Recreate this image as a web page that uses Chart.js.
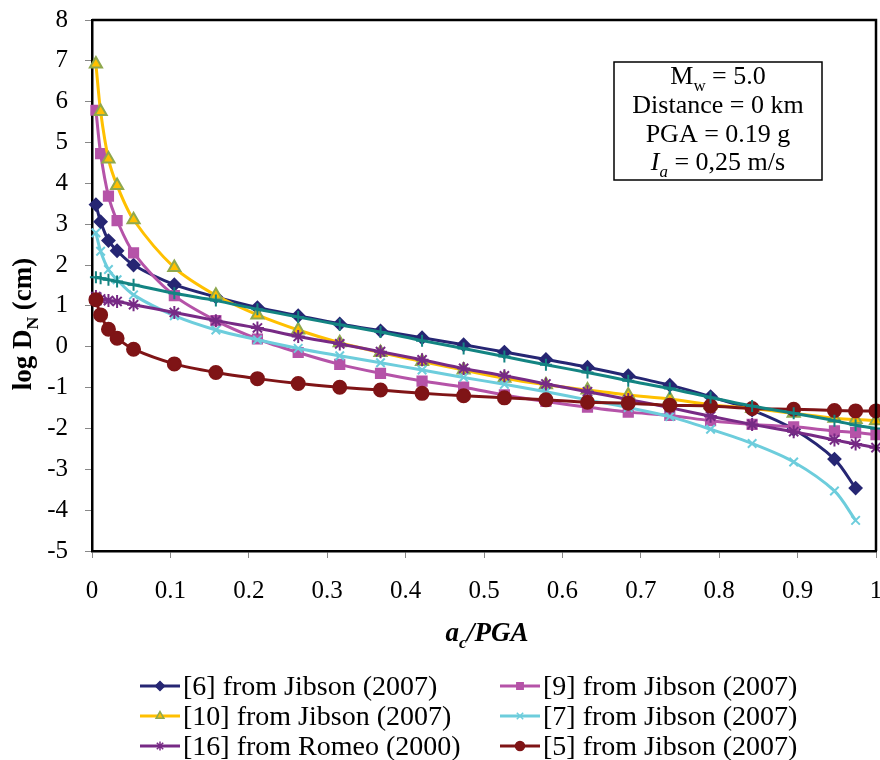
<!DOCTYPE html>
<html>
<head>
<meta charset="utf-8">
<script src="https://cdn.jsdelivr.net/npm/chart.js@4.4.1/dist/chart.umd.min.js"></script>
<style>
  html, body { margin: 0; padding: 0; background: #fff; }
  #wrap { width: 880px; height: 760px; position: relative; }
</style>
</head>
<body>
<div id="wrap"><canvas id="chart" width="880" height="760"></canvas></div>
<script>
// a_c / PGA values of the markers
const acPga = [0.005, 0.011, 0.021, 0.032, 0.053, 0.105, 0.158, 0.211, 0.263, 0.316, 0.368, 0.421,
  0.474, 0.526, 0.579, 0.632, 0.684, 0.737, 0.789, 0.842, 0.895, 0.947, 0.974, 1.0];

// log D_N (cm) per model
const ref6 = [3.48, 3.06, 2.60, 2.35, 2.00, 1.52, 1.22, 0.96, 0.76, 0.56, 0.39, 0.22,
  0.05, -0.13, -0.31, -0.50, -0.71, -0.94, -1.22, -1.55, -2.02, -2.75, -3.46];
const ref9 = [5.79, 4.73, 3.69, 3.09, 2.30, 1.25, 0.64, 0.19, -0.14, -0.43, -0.65, -0.84,
  -0.99, -1.18, -1.34, -1.48, -1.60, -1.68, -1.81, -1.90, -1.96, -2.06, -2.10, -2.15];
const ref10 = [6.92, 5.76, 4.60, 3.95, 3.11, 1.94, 1.26, 0.78, 0.41, 0.10, -0.14, -0.36,
  -0.57, -0.77, -0.93, -1.06, -1.18, -1.28, -1.42, -1.51, -1.63, -1.75, -1.78, -1.81];
const ref7 = [2.79, 2.34, 1.89, 1.64, 1.27, 0.76, 0.41, 0.17, -0.04, -0.22, -0.39, -0.57,
  -0.75, -0.92, -1.10, -1.30, -1.49, -1.71, -2.02, -2.37, -2.82, -3.53, -4.25];
const ref16 = [1.23, 1.17, 1.13, 1.11, 1.03, 0.84, 0.64, 0.46, 0.25, 0.07, -0.12, -0.32,
  -0.53, -0.71, -0.91, -1.10, -1.29, -1.49, -1.70, -1.90, -2.08, -2.28, -2.38, -2.47];
const ref5 = [1.15, 0.78, 0.43, 0.21, -0.06, -0.42, -0.63, -0.78, -0.90, -0.99, -1.06, -1.14,
  -1.20, -1.25, -1.30, -1.36, -1.38, -1.43, -1.45, -1.51, -1.53, -1.56, -1.57, -1.57];
const refTeal = [1.70, 1.68, 1.64, 1.60, 1.52, 1.31, 1.13, 0.92, 0.73, 0.54, 0.36, 0.15,
  -0.04, -0.24, -0.44, -0.63, -0.83, -1.02, -1.24, -1.45, -1.63, -1.81, -1.92, -2.00];

const seriesNames = ["[6] from Jibson (2007)", "[9] from Jibson (2007)", "[10] from Jibson (2007)",
  "[7] from Jibson (2007)", "[16] from Romeo (2000)", "[5] from Jibson (2007)", ""];

const FONT = "'Liberation Serif', 'Times New Roman', serif";

function pts(ys) {
  return ys.map((y, i) => ({ x: acPga[i], y: y }));
}

const styles = [
  { line: "#262673", fill: "#262673", border: "#262673", shape: "rectRot", r: 6 },
  { line: "#B553A8", fill: "#B553A8", border: "#B553A8", shape: "rect", r: 6.5 },
  { line: "#FFC000", fill: "#FFC000", border: "#8FA84E", shape: "triangle", r: 7 },
  { line: "#6DCDDC", fill: "#6DCDDC", border: "#6DCDDC", shape: "crossRot", r: 6 },
  { line: "#772A85", fill: "#772A85", border: "#772A85", shape: "star", r: 6.5 },
  { line: "#7F1416", fill: "#7F1416", border: "#7F1416", shape: "circle", r: 6.5 },
  { line: "#138482", fill: "#138482", border: "#138482", shape: "cross", r: 6 }
];
const allData = [ref6, ref9, ref10, ref7, ref16, ref5, refTeal];

const datasets = allData.map((d, i) => ({
  label: seriesNames[i],
  data: pts(d),
  borderColor: styles[i].line,
  backgroundColor: styles[i].fill,
  pointBackgroundColor: styles[i].fill,
  pointBorderColor: styles[i].border,
  pointBorderWidth: 2,
  pointStyle: styles[i].shape,
  pointRadius: styles[i].r,
  borderWidth: 3,
  tension: 0.3,
  clip: false,
  order: allData.length - i
}));

function drawRich(ctx, parts, x, y, size, align) {
  // parts: [{t, sub, italic, bold}]
  let widths = parts.map(p => {
    ctx.font = (p.italic ? "italic " : "") + (p.bold ? "bold " : "") + (p.sub ? size * 0.65 : size) + "px " + FONT;
    return ctx.measureText(p.t).width;
  });
  let total = widths.reduce((a, b) => a + b, 0);
  let cx = align === "center" ? x - total / 2 : x;
  ctx.textAlign = "left";
  ctx.textBaseline = "alphabetic";
  parts.forEach((p, i) => {
    ctx.font = (p.italic ? "italic " : "") + (p.bold ? "bold " : "") + (p.sub ? size * 0.65 : size) + "px " + FONT;
    ctx.fillText(p.t, cx, p.sub ? y + size * 0.25 : y);
    cx += widths[i];
  });
}

function drawMarker(ctx, st, x, y) {
  ctx.lineWidth = 1.5;
  Chart.helpers.drawPoint(ctx, { pointStyle: st.shape, radius: 4.5, borderWidth: 1.5 }, x, y);
}

const decor = {
  id: "decor",
  afterDraw(chart) {
    const ctx = chart.ctx;
    const a = chart.chartArea;
    ctx.save();
    // frame top + right
    ctx.strokeStyle = "#000";
    ctx.lineWidth = 2.5;
    ctx.beginPath();
    ctx.moveTo(a.left, a.top);
    ctx.lineTo(a.right, a.top);
    ctx.lineTo(a.right, a.bottom);
    ctx.stroke();

    ctx.fillStyle = "#000";
    // axis titles
    drawRich(ctx, [{ t: "a", italic: true, bold: true }, { t: "c", italic: true, bold: true, sub: true },
      { t: "/PGA", italic: true, bold: true }], 487, 641, 27, "center");
    ctx.save();
    ctx.translate(31, 324);
    ctx.rotate(-Math.PI / 2);
    drawRich(ctx, [{ t: "log D", bold: true }, { t: "N", bold: true, sub: true }, { t: " (cm)", bold: true }], 0, 0, 27, "center");
    ctx.restore();

    // info box
    ctx.fillStyle = "#fff";
    ctx.fillRect(614, 62, 208, 118);
    ctx.strokeStyle = "#000";
    ctx.lineWidth = 1.5;
    ctx.strokeRect(614, 62, 208, 118);
    ctx.fillStyle = "#000";
    drawRich(ctx, [{ t: "M" }, { t: "w", sub: true }, { t: " = 5.0" }], 718, 84, 26, "center");
    drawRich(ctx, [{ t: "Distance = 0 km" }], 718, 113, 26, "center");
    drawRich(ctx, [{ t: "PGA = 0.19 g" }], 718, 142, 26, "center");
    drawRich(ctx, [{ t: "I", italic: true }, { t: "a", italic: true, sub: true }, { t: " = 0,25 m/s" }], 718, 170, 26, "center");

    // legend
    const cols = [140, 500];
    const rows = [686, 716, 746];
    for (let i = 0; i < 6; i++) {
      const lx = cols[i % 2];
      const ly = rows[Math.floor(i / 2)];
      const st = styles[i];
      ctx.strokeStyle = st.line;
      ctx.lineWidth = 3;
      ctx.beginPath();
      ctx.moveTo(lx, ly);
      ctx.lineTo(lx + 40, ly);
      ctx.stroke();
      ctx.fillStyle = st.fill;
      ctx.strokeStyle = st.border;
      drawMarker(ctx, st, lx + 20, ly);
      ctx.fillStyle = "#000";
      drawRich(ctx, [{ t: seriesNames[i] }], lx + 43, ly + 9, 28, "left");
    }
    ctx.restore();
  }
};

new Chart(document.getElementById("chart"), {
  type: "line",
  data: { datasets: datasets },
  options: {
    responsive: false,
    animation: false,
    layout: { autoPadding: false, padding: { top: 20, right: 4, left: 0, bottom: 0 } },
    plugins: { legend: { display: false }, tooltip: { enabled: false } },
    scales: {
      x: {
        type: "linear",
        min: 0,
        max: 1,
        afterFit: s => { s.height = 209; s.paddingLeft = 0; s.paddingRight = 0; },
        ticks: {
          stepSize: 0.1,
          padding: 18,
          color: "#000",
          font: { family: FONT, size: 25 },
          callback: v => (Math.round(v * 10) / 10).toString()
        },
        grid: { drawOnChartArea: false, tickLength: 7, color: "#888" },
        border: { color: "#000", width: 2.5 }
      },
      y: {
        min: -5,
        max: 8,
        afterFit: s => { s.width = 92; s.paddingTop = 0; s.paddingBottom = 0; },
        ticks: {
          stepSize: 1,
          padding: 17,
          color: "#000",
          font: { family: FONT, size: 25 }
        },
        grid: { drawOnChartArea: false, tickLength: 7, color: "#888" },
        border: { color: "#000", width: 2.5 }
      }
    }
  },
  plugins: [decor]
});
</script>
</body>
</html>
